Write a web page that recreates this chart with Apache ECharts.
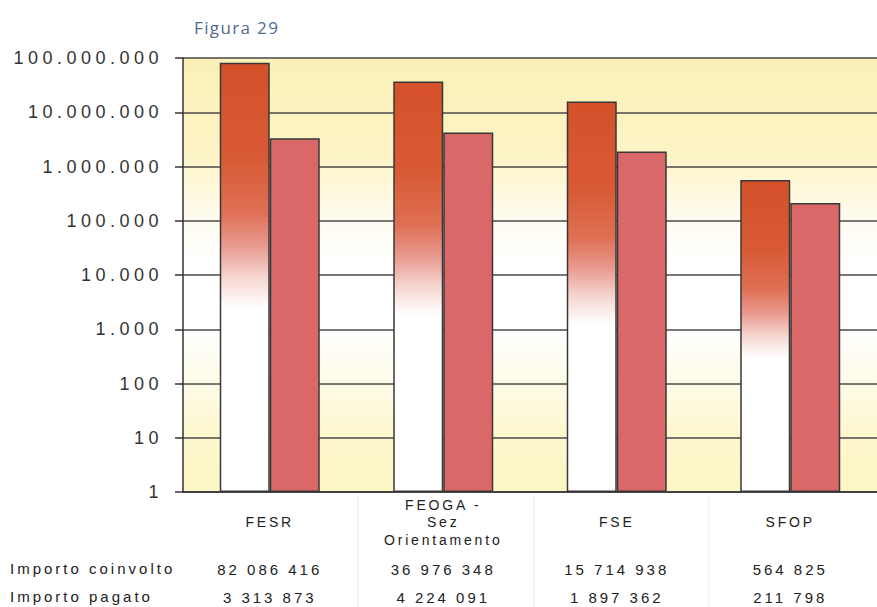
<!DOCTYPE html>
<html><head><meta charset="utf-8">
<script src="https://cdn.jsdelivr.net/npm/echarts@6/dist/echarts.min.js"></script>
<style>
html,body{margin:0;padding:0;background:#fff;}
#chart{width:877px;height:607px;}
#chart svg text{letter-spacing:0.2em;}
#chart svg text[style*="Arial"], #chart svg text[font-family*="Arial"]{letter-spacing:0.25em;}
#chart svg text[style*="Open Sans"], #chart svg text[font-family*="Open Sans"]{letter-spacing:0.08em;}
</style></head><body><div id="chart"></div>
<script>
const categories = ['FESR', 'FEOGA -\nSez\nOrientamento', 'FSE', 'SFOP'];
const seriesNames = ['Importo coinvolto', 'Importo pagato'];
const importoCoinvolto = [82086416, 36976348, 15714938, 564825];
const importoPagato = [3313873, 4224091, 1897362, 211798];
const titleText = 'Figura 29';

function dotSep(v){ return String(Math.round(v)).replace(/\B(?=(\d{3})+(?!\d))/g, '.'); }
function spaceSep(v){ return String(Math.round(v)).replace(/\B(?=(\d{3})+(?!\d))/g, ' '); }

const FONT = 'Liberation Sans';
const chart = echarts.init(document.getElementById('chart'), null, {renderer:'svg'});

const gridBg = {type:'linear', x:0, y:0, x2:0, y2:1, colorStops:[
  {offset:0, color:'#fbf0b6'},
  {offset:0.22, color:'#fcf4c6'},
  {offset:0.38, color:'#fffcf2'},
  {offset:0.48, color:'#ffffff'},
  {offset:0.62, color:'#ffffff'},
  {offset:0.76, color:'#fefbe6'},
  {offset:0.87, color:'#fdf7cd'},
  {offset:1, color:'#fcf5c4'}
]};
const bar1Fill = {type:'linear', x:0, y:0, x2:0, y2:1, colorStops:[
  {offset:0, color:'#d4512a'},
  {offset:0.22, color:'#d85a34'},
  {offset:0.35, color:'#df7055'},
  {offset:0.43, color:'#e99c92'},
  {offset:0.5, color:'#f6d6d0'},
  {offset:0.57, color:'#ffffff'},
  {offset:1, color:'#ffffff'}
]};

const valueAxisLabel = (arr, margin) => ({
  interval:0, margin:margin, verticalAlign:'middle', fontFamily:FONT, fontSize:15, color:'#222',
  formatter:(v, i) => spaceSep(arr[i])
});

chart.setOption({
  animation:false,
  title:{text:titleText, left:189, top:14, textStyle:{fontFamily:'Open Sans', fontSize:17, fontWeight:'normal', color:'#4f6b8f'}},
  grid:{left:183, right:-8, top:58, bottom:115, show:true, borderWidth:0, backgroundColor:gridBg},
  xAxis:[
    {type:'category', data:categories, position:'bottom', offset:0,
     axisLine:{show:true, lineStyle:{color:'#333', width:1.5}}, axisTick:{show:false},
     axisLabel:{interval:0, margin:30, verticalAlign:'middle', lineHeight:17.5, fontFamily:FONT, fontSize:14, color:'#222'}},
    {type:'category', data:categories, position:'bottom', offset:0,
     axisLine:{show:false}, axisTick:{show:false}, axisLabel:valueAxisLabel(importoCoinvolto, 77)},
    {type:'category', data:categories, position:'bottom', offset:0,
     axisLine:{show:false}, axisTick:{show:false}, axisLabel:valueAxisLabel(importoPagato, 105)}
  ],
  yAxis:{type:'log', logBase:10, min:1, max:100000000, splitNumber:8,
    axisLine:{show:true, lineStyle:{color:'#333', width:1.5}},
    axisTick:{show:true, length:8, lineStyle:{color:'#333', width:1.5}},
    splitLine:{show:true, lineStyle:{color:'#4a4a4a', width:1.5}},
    minorTick:{show:false},
    axisLabel:{margin:20, fontFamily:'Arial', fontSize:18, color:'#333', formatter:v => dotSep(v)}
  },
  series:[
    {name:seriesNames[0], type:'bar', xAxisIndex:0, data:importoCoinvolto, barWidth:50, barGap:'0%',
     itemStyle:{color:bar1Fill, borderColor:'#383838', borderWidth:1.5}},
    {name:seriesNames[1], type:'bar', xAxisIndex:0, data:importoPagato, barWidth:50, barGap:'0%',
     itemStyle:{color:'#da6868', borderColor:'#383838', borderWidth:1.5}}
  ],
  graphic:[
    {type:'text', left:10, top:561, style:{text:seriesNames[0], fontFamily:FONT, fontSize:15, fill:'#222'}},
    {type:'text', left:10, top:589, style:{text:seriesNames[1], fontFamily:FONT, fontSize:15, fill:'#222'}},
    {type:'line', shape:{x1:358, y1:496, x2:358, y2:607}, style:{stroke:'#e4e4e4', lineWidth:1}},
    {type:'line', shape:{x1:534, y1:496, x2:534, y2:607}, style:{stroke:'#e4e4e4', lineWidth:1}},
    {type:'line', shape:{x1:709, y1:496, x2:709, y2:607}, style:{stroke:'#ececec', lineWidth:1}}
  ]
});
</script></body></html>
